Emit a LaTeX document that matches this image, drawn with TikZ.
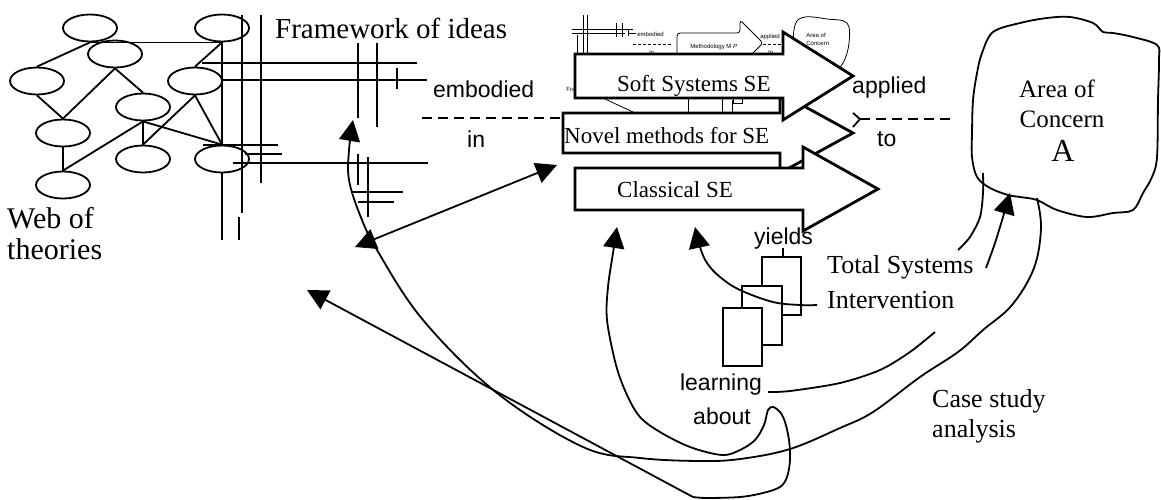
\documentclass[tikz,border=0pt]{standalone}
\usepackage{fontspec}
\setmainfont{Liberation Serif}
\newfontfamily\labelsans{Liberation Sans}
\usetikzlibrary{arrows.meta,shapes.geometric}

\tikzset{
  theory/.style={draw, ellipse, line width=1.8pt, minimum width=54pt, minimum height=27pt, inner sep=0pt},
  link/.style={line width=1.8pt},
  gridline/.style={line width=2.2pt},
  thinline/.style={line width=0.8pt},
  blockarrow/.style={draw, fill=white, line width=2.8pt, line join=miter},
  flow/.style={line width=1.8pt},
  dashline/.style={line width=1.8pt, dash pattern=on 10pt off 6pt},
  bigserif/.style={inner sep=0pt, anchor=base west, font=\fontsize{29}{31}\selectfont},
  midserif/.style={inner sep=0pt, anchor=base west, font=\fontsize{26}{30}\selectfont},
  arrowtext/.style={inner sep=0pt, anchor=base west, font=\fontsize{23}{26}\selectfont},
  sanstext/.style={inner sep=0pt, anchor=base west, font=\labelsans\fontsize{23}{26}\selectfont},
  minitext/.style={inner sep=0pt, anchor=base west, font=\labelsans\fontsize{6}{7}\selectfont},
  >={Triangle[length=21pt,width=21pt]},
}

\begin{document}
\begin{tikzpicture}[x=1pt,y=-1pt,line cap=butt]
\useasboundingbox (0,0) rectangle (1161,499);

% ---------------- web of theories ----------------
\node[theory] (t1) at (90,28) {};
\node[theory] (t2) at (222,28) {};
\node[theory] (t3) at (115,54) {};
\node[theory] (t4) at (37,81) {};
\node[theory] (t5) at (195,81) {};
\node[theory] (t6) at (143,107) {};
\node[theory] (t7) at (63,133) {};
\node[theory] (t8) at (143,159) {};
\node[theory] (t9) at (222,159) {};
\node[theory] (t10) at (63,185) {};

\draw[link] (t1.south) -- (t4.north);
\draw[link] (t1.south) -- (t2.south);
\draw[link] (t2.south) -- (t5.north);
\draw[link] (t2.south) -- (t9.north);
\draw[link] (t3.south) -- (t7.north);
\draw[link] (t3.south) -- (t6.north);
\draw[link] (t4.south) -- (t7.north);
\draw[link] (t5.south) -- (t8.north);
\draw[link] (t5.south) -- (t9.north);
\draw[link] (t6.south) -- (t8.north);
\draw[link] (t6.south) -- (t9.north);
\draw[link] (t7.south) -- (t10.north);
\draw[link] (t10.north) -- (t6.south);

\node[bigserif, font=\fontsize{30}{31}\selectfont] (web1) at (7,228) {Web of};
\node[bigserif, font=\fontsize{30}{31}\selectfont] (web2) at (7,259) {theories};

% ---------------- framework of ideas (grid) ----------------
\draw[gridline] (222,173) -- (222,240);
\draw[gridline] (242,15) -- (242,213);
\draw[gridline] (239,217) -- (239,240);
\draw[gridline] (261,15) -- (261,183);
\draw[gridline] (358,43) -- (358,118);
\draw[gridline] (377,43) -- (377,127);
\draw[gridline] (397,68) -- (397,89);
\draw[gridline] (358,154) -- (358,185);
\draw[gridline] (368,157) -- (368,217);
\draw[gridline] (202,63) -- (417,63);
\draw[gridline] (222,80) -- (427,80);
\draw[gridline] (203,145) -- (278,145);
\draw[gridline] (245,154) -- (282,154);
\draw[gridline] (233,163) -- (428,163);
\draw[gridline] (352,192) -- (403,192);
\draw[gridline] (358,202) -- (394,202);

\node[bigserif] (fwtext) at (275,38) {Framework of ideas};

% ---------------- embodied in / applied to ----------------
\coordinate (dashL) at (422,118);
\coordinate (dashLend) at (575,118);
\draw[dashline] (dashL) -- (dashLend);
\node[sanstext] (embodied) at (433,97) {embodied};
\node[sanstext] (intext) at (467,147) {in};

\coordinate (fork) at (860,119);
\coordinate (dashR) at (952,119);
\draw[link] (853,113) -- (fork) -- (853,127);
\draw[dashline] (fork) -- (dashR);
\node[sanstext] (applied) at (852,93) {applied};
\node[sanstext] (totext) at (877,146) {to};

% ---------------- small earlier sketch behind the method arrows ----------------
\begin{scope}[thinline]
  \draw (577,35) -- (577,56);
  \draw (583,15) -- (583,56);
  \draw (587,15) -- (587,56);
  \draw (572,29) -- (633,29);
  \draw (572,33) -- (625,33);
  \draw (616,23) -- (616,37);
  \draw (622,23) -- (622,37);
  \draw (628,30) -- (628,36);
  \draw (628,33) -- (636,33);
  \draw[dash pattern=on 3pt off 2pt] (633,44) -- (673,44);
  \node[minitext] (membodied) at (637,36) {embodied};
  \node[minitext] (min) at (649,54) {in};
  \draw[rounded corners=3pt] (677,56) -- (677,33) -- (740,33) -- (740,20) -- (763,43) -- (740,66) -- (740,56);
  \node[minitext] (mmethod) at (690,48) {Methodology M \textit{P}};
  \node[minitext] (mapplied) at (760,38) {applied};
  \draw[dash pattern=on 3pt off 2pt] (763,44) -- (785,44);
  \node[minitext] (mto) at (768,54) {to};
  \draw plot[smooth cycle, tension=0.6] coordinates {(795,25) (805,17) (827,19) (847,23) (849,43) (843,63) (830,75) (810,70) (795,50)};
  \node[minitext] (marea) at (806,37) {Area of};
  \node[minitext] (mconcern) at (806,45) {Concern};
  \node[minitext] (mfra) at (566,91) {Fra};
  \draw (603,98) -- (635,113);
  \draw (688,98) -- (688,113);
  \draw (722,98) -- (722,113);
  \draw (732,100) -- (732,112);
  \draw (733,98) rectangle (742,103);
\end{scope}

% ---------------- method arrows ----------------
\draw[blockarrow] (563,113) -- (780,113) -- (780,93) -- (853,133) -- (780,173) -- (780,153) -- (563,153) -- cycle;
\draw[blockarrow] (575,54) -- (783,54) -- (783,32) -- (853,76) -- (783,120) -- (783,98) -- (575,98) -- cycle;
\draw[blockarrow] (575,168) -- (803,168) -- (803,147) -- (878,189) -- (803,231) -- (803,210) -- (575,210) -- cycle;
\node[arrowtext] (soft) at (617,91) {Soft Systems SE};
\node[arrowtext] (novel) at (564,143) {Novel methods for SE};
\node[arrowtext] (classical) at (617,197) {Classical SE};

% ---------------- area of concern ----------------
\draw[line width=1.8pt] plot[smooth cycle, tension=0.55] coordinates {
  (982,53) (993,32) (1020,23) (1047,18) (1070,17) (1093,23) (1103,32) (1113,33)
  (1133,37) (1157,45) (1159,60) (1158,100) (1157,157) (1152,177) (1143,193)
  (1133,210) (1113,213) (1087,217) (1057,210) (1037,200) (1020,197) (1008,195)
  (990,188) (977,177) (972,157) (972,133) (973,100) (977,73)};
\node[inner sep=0pt, anchor=base, font=\fontsize{25}{28}\selectfont] (area1) at (1057,97) {Area of};
\node[inner sep=0pt, anchor=base, font=\fontsize{25}{28}\selectfont] (area2) at (1062,127) {Concern};
\node[inner sep=0pt, anchor=base, font=\fontsize{32}{34}\selectfont] (area3) at (1063,161) {A};

% ---------------- total systems intervention ----------------
\draw[link, fill=white] (762,257) rectangle (801,315);
\draw[link, fill=white] (742,286) rectangle (782,345);
\draw[link, fill=white] (723,308) rectangle (762,366);
\draw[link] (783,248) -- (783,257);
\node[sanstext] (yields) at (754,244) {yields};
\node[midserif] (tsi1) at (827,273) {Total Systems};
\node[midserif] (tsi2) at (827,308) {Intervention};
\node[sanstext, anchor=base] (learn1) at (721,390) {learning};
\node[sanstext, anchor=base] (learn2) at (722,424) {about};
\node[midserif] (case1) at (932,407) {Case study};
\node[midserif] (case2) at (932,437) {analysis};

% ---------------- connectors ----------------
% framework <-> method arrows
\coordinate (fwTip) at (355,247);
\coordinate (novelTip) at (557,165);
\draw[flow,<->] (fwTip) -- (novelTip);

% case study analysis: area of concern back to the framework
\coordinate (caseStart) at (1037,198);
\coordinate (caseTip) at (353,120);
\draw[flow,->] plot[smooth, tension=0.6] coordinates {(caseStart) (1041,228) (1034,268) (1012,305) (983,330) (958,352) (920,377) (873,412) (840,428) (790,449) (740,459) (700,461) (640,458) (583,447) (497,393) (423,320) (377,250) (360,215) (349,180) (349,150) (caseTip)};

% learning about: loop feeding the web of theories and classical SE
\coordinate (loopBase) at (693,497);
\coordinate (webTip) at (307,290);
\coordinate (classTip) at (617,227);
\draw[flow,->] plot[smooth, tension=0.55] coordinates {(loopBase) (707,498) (740,497) (763,493) (780,487) (787,477) (790,460) (789,440) (785,422) (780,412) (773,407) (768,410) (764,425) (755,440) (740,450) (722,455) (690,447) (660,432) (640,417) (627,395) (616,365) (607,320) (608,287) (613,253) (classTip)};
\draw[flow,->] (loopBase) -- (webTip);

% intervention back to classical SE
\coordinate (tsiStart) at (817,305);
\coordinate (tsiTip) at (695,227);
\draw[flow,->] plot[smooth, tension=0.6] coordinates {(tsiStart) (800,305) (773,302) (740,290) (720,277) (707,263) (700,247) (tsiTip)};

% intervention to the area of concern
\draw[flow] plot[smooth] coordinates {(983,173) (983,193) (980,217) (970,237) (958,250)};
\coordinate (areaTip) at (1010,193);
\draw[flow,->] plot[smooth] coordinates {(986,268) (995,243) (1003,217) (areaTip)};
\draw[flow] plot[smooth] coordinates {(768,392) (790,391) (840,383) (880,370) (910,352) (935,332)};

\end{tikzpicture}
\end{document}
